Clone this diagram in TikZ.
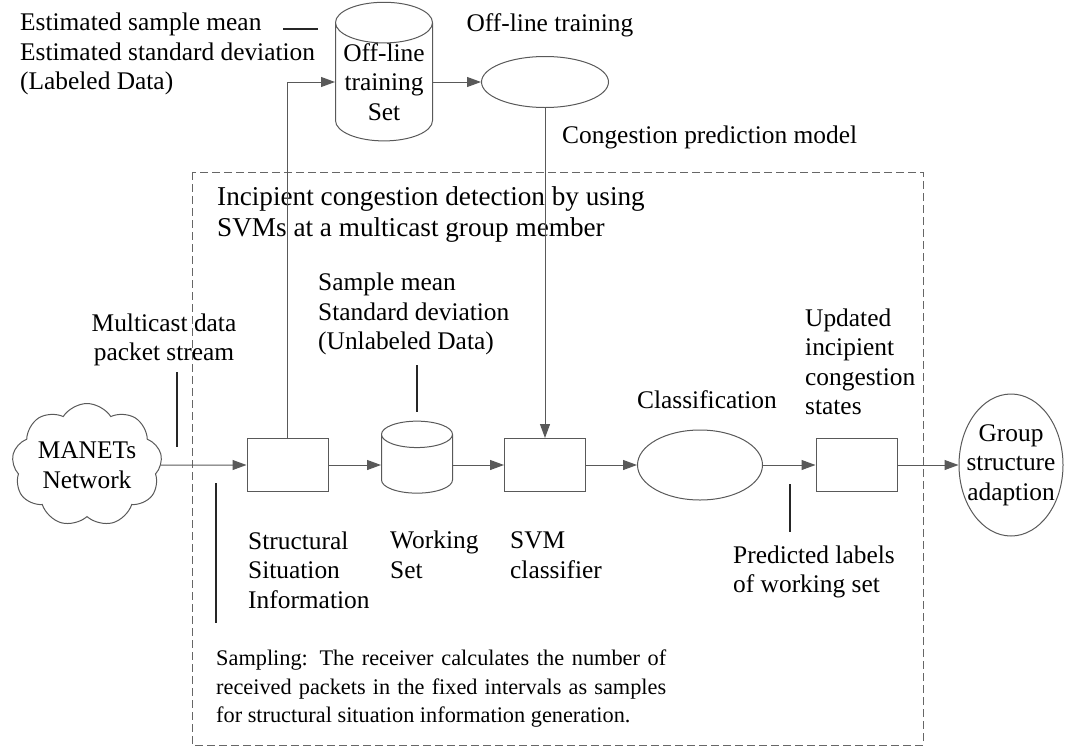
\documentclass[tikz,border=0pt]{standalone}
\usepackage{fontspec}
\setmainfont{Liberation Serif}
\usetikzlibrary{shapes.geometric,shapes.symbols,arrows.meta}

\tikzset{
	txt/.style={font=\fontsize{25.4}{29.5}\selectfont, inner sep=0pt},
	flow/.style={draw=black!65, line width=1pt, -{Triangle[length=14pt,width=10pt]}},
	callout/.style={draw=black!85, line width=1.4pt},
	box/.style={draw=black!65, line width=1pt, minimum width=81pt, minimum height=53pt, inner sep=0pt},
	store/.style={cylinder, shape border rotate=90, draw=black!65, line width=1pt, align=center, inner sep=0pt},
}

\begin{document}
\begin{tikzpicture}[x=1pt, y=-1pt]
	\useasboundingbox (0,0) rectangle (1065,750);
	
	% member area
	\draw[black!60, line width=1pt, dash pattern=on 8pt off 4pt] (192,172) rectangle (923,745);
	\node[txt, anchor=west, align=left, font=\fontsize{27.2}{31}\selectfont] (incip) at (217,214)
		{Incipient congestion detection by using\\SVMs at a multicast group member};
	
	% off-line part
	\node[store, minimum width=97pt, minimum height=121pt, aspect=0.5, txt] (train) at (384,82)
		{Off-line\\training\\Set};
	\node[ellipse, draw=black!65, line width=1pt, minimum width=127pt, minimum height=51pt] (learn) at (545,82){};
	\node[txt] (learnlab) at (550,25){Off-line training};
	\node[txt, anchor=west, align=left] (estim) at (20,54)
		{Estimated sample mean\\Estimated standard deviation\\(Labeled Data)};
	\node[txt, anchor=west] (model) at (562,137){Congestion prediction model};
	
	% on-line chain
	\node[cloud, cloud puffs=9, cloud puff arc=115, aspect=1.35, draw=black!65, line width=1pt,
		minimum width=149pt, minimum height=110pt, txt, align=center] (net) at (87,465){MANETs\\Network};
	\node[box] (ssi) at (287.5,465){};
	\node[store, minimum width=71pt, minimum height=72pt, aspect=0.4] (wset) at (417,464){\hspace*{66pt}};
	\node[box] (svm) at (545,465){};
	\node[ellipse, draw=black!65, line width=1pt, minimum width=125pt, minimum height=70pt] (cls) at (700,465){};
	\node[box] (upd) at (856.5,465){};
	\node[ellipse, draw=black!65, line width=1pt, minimum width=104pt, minimum height=142pt,
		txt, align=center, inner sep=-16pt] (grp) at (1011,465){Group\\structure\\adaption};
	
	\draw[flow] (net) -- (ssi);
	\draw[flow] (ssi.east) -- (ssi.east -| wset.west);
	\draw[flow] (svm.west -| wset.east) -- (svm.west);
	\draw[flow] (svm) -- (cls);
	\draw[flow] (cls) -- (upd);
	\draw[flow] (upd) -- (grp);
	\draw[flow] (ssi.north) |- (train.west |- learn.west);
	\draw[flow] (train.east |- learn.west) -- (learn.west);
	\draw[flow] (learn) -- (svm);
	
	% labels
	\node[txt, align=center] (mcast) at (164,340){Multicast data\\packet stream};
	\node[txt, anchor=west, align=left] (smean) at (318,314)
		{Sample mean\\Standard deviation\\(Unlabeled Data)};
	\node[txt] (clslab) at (707,400){Classification};
	\node[txt, anchor=west, align=left] (updlab) at (805,362)
		{Updated\\incipient\\congestion\\states};
	\node[txt, anchor=west, align=left] (ssilab) at (248,570)
		{Structural\\Situation\\Information};
	\node[txt, anchor=west, align=left] (wsetlab) at (390,555){Working\\Set};
	\node[txt, anchor=west, align=left] (svmlab) at (510,555){SVM\\classifier};
	\node[txt, anchor=west, align=left] (pred) at (733,572)
		{Predicted labels\\of working set};
	\node[txt, anchor=north west, text width=450pt, align=justify,
		font=\fontsize{22.3}{28.5}\selectfont] (samp) at (216,650)
		{\hyphenpenalty=10000 Sampling: The receiver calculates the number of\linebreak
		received packets in the fixed intervals as samples\linebreak
		for structural situation information generation.};
	
	% callout strokes
	\draw[callout] (283,29) -- (318,29);
	\draw[callout] (177,372) -- (177,447);
	\draw[callout] (417,365) -- (417,412);
	\draw[callout] (216,483) -- (216,623);
	\draw[callout] (790,484) -- (790,532);
\end{tikzpicture}
\end{document}
